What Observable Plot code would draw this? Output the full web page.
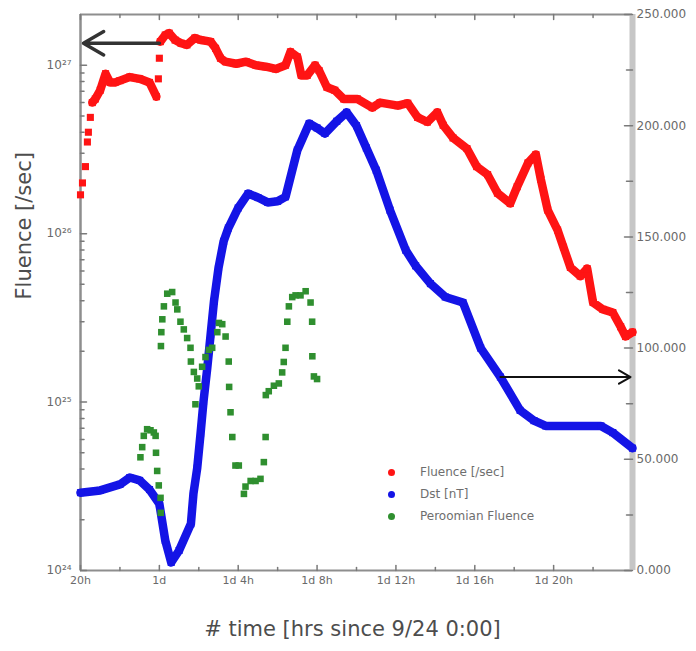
<!DOCTYPE html>
<html><head><meta charset="utf-8">
<script src="https://cdn.jsdelivr.net/npm/d3@7"></script>
<script src="https://cdn.jsdelivr.net/npm/@observablehq/plot@0.6"></script>
<style>
body{margin:0;background:#fff;font-family:"DejaVu Sans",sans-serif}
#wrap{position:relative;width:696px;height:651px}
#legend{position:absolute;left:388px;top:461px;font-size:12px;color:#6e6e6e}
.row{display:flex;align-items:center;height:22px}
.sw{width:7px;height:7px;border-radius:50%;margin-right:25px}
</style></head><body><div id="wrap"><div id="legend"></div></div>
<script>
// ---- data (hours since 9/24 0:00) ----
const fluenceTime = [20.0,20.1,20.25,20.35,20.4,20.5,20.6,20.75,21.0,21.27,21.5,21.75,22.0,22.5,23.0,23.5,23.85,23.95,24.0,24.05,24.3,24.5,24.8,25.1,25.4,25.8,26.1,26.6,26.85,27.1,27.35,27.9,28.4,28.9,29.4,29.9,30.4,30.65,31.0,31.2,31.5,31.9,32.1,32.5,32.9,33.35,34.05,34.8,35.2,36.1,36.6,37.1,37.6,38.1,38.4,38.9,39.6,40.1,40.65,41.15,41.8,42.15,42.7,43.1,43.35,43.7,44.2,44.5,44.85,45.35,45.7,46.0,46.5,47.0,47.4,47.65,48.0];
const fluence = [1.7e26,2.0e26,2.5e26,3.5e26,4.0e26,4.9e26,6.0e26,6.3e26,7.1e26,8.9e26,7.9e26,7.9e26,8.1e26,8.5e26,8.3e26,7.9e26,6.5e26,8.3e26,1.1e27,1.38e27,1.51e27,1.55e27,1.41e27,1.35e27,1.32e27,1.45e27,1.41e27,1.38e27,1.26e27,1.1e27,1.05e27,1.02e27,1.05e27,1.0e27,9.8e26,9.5e26,1.0e27,1.2e27,1.12e27,8.7e26,8.7e26,1.0e27,9.3e26,7.4e26,7.1e26,6.3e26,6.3e26,5.6e26,6.0e26,5.75e26,5.95e26,4.9e26,4.6e26,5.25e26,4.4e26,3.7e26,3.2e26,2.5e26,2.24e26,1.74e26,1.51e26,1.9e26,2.63e26,2.95e26,2.1e26,1.38e26,1.05e26,8.3e25,6.3e25,5.6e25,6.2e25,3.9e25,3.55e25,3.4e25,2.8e25,2.45e25,2.6e25];

const dstTime = [20,21,22,22.5,23,23.5,24,24.3,24.6,25,25.6,25.73,25.92,26.09,26.24,26.43,26.6,26.77,27,27.26,27.5,28,28.5,29,29.5,30,30.4,31,31.6,32,32.4,33,33.5,34,34.5,35,35.7,36.5,37,37.75,38.5,39.4,40.3,41.3,42.3,43,43.6,46.4,47,48];
const dst = [35,36,38.7,41.8,40.5,36.4,30,13.5,3.6,9,21,34.6,46,61.6,76,91,106,121,136,148,154,163,169.5,167.7,165.5,166,168,189,201,199,196.5,202,206,200,190,180,162,144,137,129,123,120.5,100,87,72,67.4,65,65,62,55];

const peroomianTime = [23.04,23.13,23.21,23.38,23.55,23.72,23.81,23.83,23.89,23.97,24.06,24.07,24.08,24.1,24.15,24.23,24.40,24.65,24.82,24.91,25.07,25.24,25.41,25.58,25.6,25.75,25.83,25.92,26.0,26.17,26.34,26.51,26.68,26.94,27.02,27.19,27.36,27.52,27.54,27.61,27.70,27.86,28.03,28.29,28.37,28.63,28.88,29.13,29.30,29.39,29.40,29.55,29.81,30.06,30.23,30.31,30.40,30.49,30.57,30.74,30.91,31.16,31.42,31.67,31.75,31.76,31.84,32.0];
const peroomian = [4.7e24,5.4e24,6.3e24,6.9e24,6.8e24,6.6e24,6.3e24,5.0e24,3.9e24,3.2e24,2.7e24,2.2e24,2.15e25,2.6e25,3.1e25,3.7e25,4.4e25,4.5e25,3.9e25,3.55e25,3.0e25,2.7e25,2.4e25,2.1e25,1.74e25,1.51e25,9.7e24,1.38e25,1.24e25,1.62e25,1.85e25,2.04e25,2.1e25,2.6e25,2.95e25,2.9e25,2.45e25,1.74e25,1.23e25,8.7e24,6.2e24,4.2e24,4.2e24,2.85e24,3.15e24,3.4e24,3.4e24,3.5e24,4.4e24,6.2e24,1.1e25,1.16e25,1.25e25,1.29e25,1.5e25,1.73e25,2.1e25,3.0e25,3.7e25,4.2e25,4.3e25,4.3e25,4.55e25,3.9e25,3.0e25,1.87e25,1.42e25,1.37e25];

const seriesNames = ["Fluence [/sec]", "Dst [nT]", "Peroomian Fluence"];
const seriesColors = ["#ff1414", "#1414e6", "#2f8f2f"];

const xMajor = [20,24,28,32,36,40,44];
const xLabels = ["20h","1d","1d 4h","1d 8h","1d 12h","1d 16h","1d 20h"];
const xMinor = [22,26,30,34,38,42,46];
const logMajor = [1e24,1e25,1e26,1e27];
const logLabels = ["10\u00b2\u2074","10\u00b2\u2075","10\u00b2\u2076","10\u00b2\u2077"];
const logMinor = [2e24,3e24,4e24,5e24,6e24,7e24,8e24,9e24,2e25,3e25,4e25,5e25,6e25,7e25,8e25,9e25,2e26,3e26,4e26,5e26,6e26,7e26,8e26,9e26];
const dstMajor = [0,50,100,150,200,250];
const dstLabels = ["0.000","50.000","100.000","150.000","200.000","250.000"];
const dstMinor = [25,75,125,175,225];

// annotation arrows (data coordinates)
const arrowToLeft = [{t1: 24.0, t2: 20.15, v: 1.35e27}];
const arrowToRight = [{t1: 41.3, t2: 47.9, dst: 87}];

const xTitle = "# time [hrs since 9/24 0:00]";
const yTitle = "Fluence [/sec]";

// ---- scales ----
const yMin = 1e24, yMax = 2e27, dstMax = 250;
const dstToY = v => yMin * Math.pow(yMax / yMin, v / dstMax);

const fluenceData = fluenceTime.map((t, i) => ({t, v: fluence[i], seg: t < 20.55 ? null : (t <= 23.86 ? "a" : (t >= 24.04 ? "b" : null))}));
const dstData = dstTime.map((t, i) => ({t, v: dst[i]}));
const perData = peroomianTime.map((t, i) => ({t, v: peroomian[i]}));

const tickShape = {draw(ctx, l) { ctx.moveTo(0, 0); ctx.lineTo(0, -l); }};
const tk = "#7a7a7a", lab = "#6a6a6a";

const chart = Plot.plot({
  width: 696, height: 651,
  marginLeft: 80, marginRight: 64, marginTop: 14, marginBottom: 81,
  x: {domain: [20, 48], axis: null},
  y: {type: "log", domain: [yMin, yMax], axis: null},
  style: {fontFamily: "DejaVu Sans, sans-serif", fontSize: "12px", background: "white", overflow: "visible"},
  marks: [
    // frame
    Plot.ruleY([yMax], {stroke: "#8e8e8e", strokeWidth: 2}),
    Plot.ruleY([yMin], {stroke: "#8e8e8e", strokeWidth: 2}),
    Plot.ruleX([20], {stroke: "#8e8e8e", strokeWidth: 2.5}),
    Plot.ruleX([48], {stroke: "#c6c6c6", strokeWidth: 6}),
    // ticks (inward)
    Plot.vector(logMajor, {y: d => d, frameAnchor: "left", rotate: 90, length: 6, anchor: "start", shape: tickShape, stroke: tk}),
    Plot.vector(logMinor, {y: d => d, frameAnchor: "left", rotate: 90, length: 3.5, anchor: "start", shape: tickShape, stroke: tk}),
    Plot.vector(dstMajor, {y: d => dstToY(d), frameAnchor: "right", rotate: -90, length: 8, anchor: "start", shape: tickShape, stroke: tk}),
    Plot.vector(dstMinor, {y: d => dstToY(d), frameAnchor: "right", rotate: -90, length: 6, anchor: "start", shape: tickShape, stroke: tk}),
    Plot.vector(xMajor, {x: d => d, frameAnchor: "bottom", rotate: 0, length: 5, anchor: "start", shape: tickShape, stroke: tk}),
    Plot.vector(xMinor, {x: d => d, frameAnchor: "bottom", rotate: 0, length: 3, anchor: "start", shape: tickShape, stroke: tk}),
    Plot.vector(xMajor, {x: d => d, frameAnchor: "top", rotate: 180, length: 5, anchor: "start", shape: tickShape, stroke: tk}),
    Plot.vector(xMinor, {x: d => d, frameAnchor: "top", rotate: 180, length: 3, anchor: "start", shape: tickShape, stroke: tk}),
    // tick labels
    Plot.text(logMajor, {y: d => d, frameAnchor: "left", text: (d, i) => logLabels[i], textAnchor: "end", dx: -9, fontSize: 12, fill: lab}),
    Plot.text(dstMajor, {y: d => dstToY(d), frameAnchor: "right", text: (d, i) => dstLabels[i], textAnchor: "start", dx: 4, fontSize: 12, fill: lab}),
    Plot.text(xMajor, {x: d => d, frameAnchor: "bottom", text: (d, i) => xLabels[i], dy: 13, fontSize: 11, fill: lab}),
    // titles
    Plot.text([xTitle], {frameAnchor: "bottom", dy: 65, dx: -4, fontSize: 21, fill: "#4d4d4d"}),
    Plot.text([yTitle], {frameAnchor: "left", rotate: -90, dx: -56, dy: 7, fontSize: 21, fill: "#4d4d4d"}),
    // series
    Plot.line(fluenceData.filter(d => d.seg), {x: "t", y: "v", z: "seg", stroke: seriesColors[0], strokeWidth: 8.5}),
    Plot.dot(fluenceData, {x: "t", y: "v", symbol: "square", r: 4, fill: seriesColors[0]}),
    Plot.line(dstData, {x: "t", y: d => dstToY(d.v), stroke: seriesColors[1], strokeWidth: 8.5}),
    Plot.dot(dstData, {x: "t", y: d => dstToY(d.v), symbol: "square", r: 4, fill: seriesColors[1]}),
    Plot.dot(perData, {x: "t", y: "v", symbol: "square", r: 3.7, fill: seriesColors[2]}),
    // arrows
    Plot.arrow(arrowToLeft, {x1: "t1", x2: "t2", y1: "v", y2: "v", stroke: "#333", strokeWidth: 3.5, headLength: 10}),
    Plot.arrow(arrowToRight, {x1: "t1", x2: "t2", y1: d => dstToY(d.dst), y2: d => dstToY(d.dst), stroke: "#111", strokeWidth: 2, headLength: 10})
  ]
});
const wrap = document.getElementById("wrap");
wrap.insertBefore(chart, wrap.firstChild);

const legend = document.getElementById("legend");
seriesNames.forEach((n, i) => {
  const row = document.createElement("div"); row.className = "row";
  const sw = document.createElement("span"); sw.className = "sw"; sw.style.background = seriesColors[i];
  const tx = document.createElement("span"); tx.textContent = n;
  row.appendChild(sw); row.appendChild(tx); legend.appendChild(row);
});
</script></body></html>
